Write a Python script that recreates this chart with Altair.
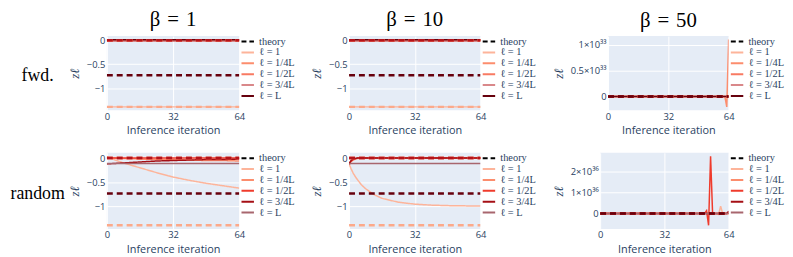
import altair as alt
import pandas as pd

# ---------------- text / categories ----------------
SERIES = ["ℓ = 1", "ℓ = 1/4L", "ℓ = 1/2L", "ℓ = 3/4L", "ℓ = L"]
LEGEND_DOMAIN = ["theory"] + SERIES
COL_TITLES = ["β\u2004=\u20041", "β\u2004=\u200410", "β\u2004=\u200450"]
ROW_LABELS = ["fwd.", "random"]
X_TITLE = "Inference iteration"
Y_TITLE = "zℓ"
X_TICKS = [0, 32, 64]
X_DOMAIN = [0, 64]

COLORS_FWD = ["#fdb49a", "#fc8d6d", "#f87a62", "#d9888a", "#67000d"]
COLORS_RND = ["#fdb49a", "#fc8d6d", "#ef3b2c", "#a50f15", "#a8666e"]
THEORY_COLORS = ["#fca98a", "#fc8d6d", "#f0503a", "#b5131b", "#67000d"]

# theory values per layer (dashed lines)
THEORY_ITERS = [0, 64]
THEORY_VALUES = [-1.385, 0.0, 0.0, 0.0, -0.73]

# ---------------- fwd., beta = 1 ----------------
F1_IT = [0, 64]
F1_L1 = [-1.385, -1.385]
F1_L14 = [0.0, 0.0]
F1_L12 = [0.0, 0.0]
F1_L34 = [-0.02, -0.02]
F1_LL = [0.01, 0.01]

# ---------------- fwd., beta = 10 ----------------
F10_IT = [0, 64]
F10_L1 = [-1.385, -1.385]
F10_L14 = [0.0, 0.0]
F10_L12 = [0.0, 0.0]
F10_L34 = [-0.02, -0.02]
F10_LL = [0.01, 0.01]

# ---------------- fwd., beta = 50 ----------------
F50_IT_FLAT = [0, 64]
F50_IT_SPIKE = [0, 62, 63, 64]
F50_L1 = [0.0, 0.0]
F50_L14 = [0.0, 0.0, -0.2e33, 1.1e33]
F50_L12 = [0.0, 0.0]
F50_L34 = [0.0, 0.0]
F50_LL = [0.0, 0.0]

# ---------------- random, beta = 1 ----------------
R1_IT = [0, 4, 8, 12, 16, 24, 32, 40, 48, 56, 64]
R1_L1 = [0.03, -0.04, -0.10, -0.15, -0.20, -0.30, -0.39, -0.46, -0.52, -0.57, -0.62]
R1_L14 = [0.01, 0.0, -0.01, -0.01, -0.02, -0.03, -0.03, -0.04, -0.05, -0.05, -0.06]
R1_L12 = [0.0, 0.0, 0.0, 0.0, 0.0, 0.0, 0.0, 0.0, 0.0, 0.0, 0.0]
R1_L34 = [-0.12, -0.11, -0.10, -0.09, -0.08, -0.06, -0.05, -0.04, -0.03, -0.03, -0.02]
R1_LL = [-0.11, -0.11, -0.11, -0.11, -0.11, -0.11, -0.11, -0.11, -0.11, -0.11, -0.11]

# ---------------- random, beta = 10 ----------------
R10_IT = [0, 1, 2, 3, 4, 6, 8, 12, 16, 24, 32, 40, 48, 56, 64]
R10_L1 = [-0.12, -0.22, -0.31, -0.38, -0.44, -0.55, -0.63, -0.75, -0.83, -0.91, -0.95, -0.97, -0.98, -0.985, -0.99]
R10_L14 = [-0.12, -0.07, -0.04, -0.02, -0.01, 0.0, 0.0, 0.0, 0.0, 0.0, 0.0, 0.0, 0.0, 0.0, 0.0]
R10_L12 = [-0.12, -0.06, -0.03, -0.01, 0.0, 0.0, 0.0, 0.0, 0.0, 0.0, 0.0, 0.0, 0.0, 0.0, 0.0]
R10_L34 = [-0.12, -0.05, -0.02, -0.01, 0.0, 0.0, 0.0, 0.0, 0.0, 0.0, 0.0, 0.0, 0.0, 0.0, 0.0]
R10_LL = [-0.12, -0.11, -0.11, -0.11, -0.11, -0.11, -0.11, -0.11, -0.11, -0.11, -0.11, -0.11, -0.11, -0.11, -0.11]

# ---------------- random, beta = 50 ----------------
R50_IT_FLAT = [0, 64]
R50_IT_L1 = [0, 58, 59, 60, 61, 64]
R50_L1 = [0.0, 0.0, -0.05e36, 0.35e36, 0.0, 0.0]
R50_L14 = [0.0, 0.0]
R50_IT_L12 = [0, 52, 53, 54, 55, 56, 64]
R50_L12 = [0.0, 0.0, 0.13e36, -0.57e36, 2.74e36, 0.0, 0.0]
R50_IT_L34 = [0, 63, 64]
R50_L34 = [0.0, 0.0, 0.1e36]
R50_LL = [0.0, 0.0]

# ---------------- axes ----------------
Y_TICKS = [-1, -0.5, 0]
Y_DOMAIN_FWD = [-1.455, 0.085]
Y_DOMAIN_RND = [-1.46, 0.11]
Y_DOMAIN_F50 = [-0.265e33, 1.165e33]
Y_TICKS_F50 = [0, 0.5e33, 1e33]
Y_LABELS_F50 = ["0", "0.5×10³³", "1×10³³"]
Y_DOMAIN_R50 = [-0.74e36, 2.91e36]
Y_TICKS_R50 = [0, 1e36, 2e36]
Y_LABELS_R50 = ["0", "1×10³⁶", "2×10³⁶"]

TXT = "#2a3f5f"
SERIF = "Liberation Serif"
SANS = "Open Sans"


def lines_frame(items):
    rows = []
    for name, its, vals in items:
        for i, v in zip(its, vals):
            rows.append({"iter": i, "value": v, "series": name})
    return pd.DataFrame(rows)


def theory_frame():
    rows = []
    for name, v in zip(SERIES, THEORY_VALUES):
        for i in THEORY_ITERS:
            rows.append({"iter": i, "value": v, "tseries": name})
    return pd.DataFrame(rows)


def label_expr(values, labels):
    tol = abs(float(values[-1])) * 1e-6 + 1e-9
    expr = "'" + labels[-1] + "'"
    for v, l in reversed(list(zip(values[:-1], labels[:-1]))):
        expr = f"abs(datum.value - ({float(v)!r})) < {tol!r} ? '{l}' : " + expr
    return expr


def make_panel(df, colors, width, height, ydomain, yticks, ylabels=None, title=None, rowlabel=None):
    x_axis = alt.Axis(values=X_TICKS, title=X_TITLE, format="d", labelFlush=False,
                      labelPadding=1, titlePadding=4)
    yargs = dict(values=yticks, title=Y_TITLE, labelPadding=2, titlePadding=5,
                 titleFont=SERIF, titleFontStyle="italic", titleFontSize=13, titleFontWeight="normal")
    if ylabels is not None:
        yargs["labelExpr"] = label_expr(yticks, ylabels)
    else:
        yargs["format"] = "~g"
    y_axis = alt.Axis(**yargs)
    x_enc = alt.X("iter:Q", scale=alt.Scale(domain=X_DOMAIN, nice=False, zero=False), axis=x_axis)
    y_enc = alt.Y("value:Q", scale=alt.Scale(domain=ydomain, nice=False, zero=False), axis=y_axis)
    leg = alt.Legend(title=None, orient="none", legendX=width + 3, legendY=0, direction="vertical",
                     symbolType="M-1.4,0H1.4", symbolSize=81, symbolStrokeWidth=2,
                     labelFont=SERIF, labelFontSize=10.5, labelColor=TXT, labelOffset=6,
                     rowPadding=0, padding=0)
    data_layer = alt.Chart(df).mark_line(strokeWidth=1.5, clip=True).encode(
        x=x_enc, y=y_enc,
        color=alt.Color("series:N", scale=alt.Scale(domain=LEGEND_DOMAIN, range=["#000000"] + colors), legend=leg),
        strokeDash=alt.StrokeDash("series:N", scale=alt.Scale(domain=LEGEND_DOMAIN, range=[[5, 3]] + [[1, 0]] * 5), legend=leg),
    )
    theory_layer = alt.Chart(theory_frame()).mark_line(strokeWidth=2.5, strokeDash=[6, 4], clip=True).encode(
        x=x_enc, y=y_enc,
        stroke=alt.Stroke("tseries:N", scale=alt.Scale(domain=SERIES, range=THEORY_COLORS), legend=None),
    )
    layers = [data_layer, theory_layer]
    if rowlabel is not None:
        anchor = alt.Chart(pd.DataFrame({"a": [0]})).mark_rule(opacity=0).encode(
            x=alt.value(-100), y=alt.value(0), y2=alt.value(1))
        txt = alt.Chart(pd.DataFrame({"label": [rowlabel]})).mark_text(
            font=SERIF, fontSize=18, align="center", baseline="middle", color="#000000").encode(
            text="label:N", x=alt.value(-70), y=alt.value(height / 2 + 3))
        layers += [anchor, txt]
    ch = alt.layer(*layers).properties(width=width, height=height)
    if title is not None:
        ch = ch.properties(title=alt.Title(title, font=SERIF, fontSize=21, fontWeight="normal", color="#000000",
                                           frame="group", anchor="middle", offset=5))
    return ch


fwd1 = lines_frame([(SERIES[0], F1_IT, F1_L1), (SERIES[1], F1_IT, F1_L14), (SERIES[2], F1_IT, F1_L12),
                    (SERIES[3], F1_IT, F1_L34), (SERIES[4], F1_IT, F1_LL)])
fwd10 = lines_frame([(SERIES[0], F10_IT, F10_L1), (SERIES[1], F10_IT, F10_L14), (SERIES[2], F10_IT, F10_L12),
                     (SERIES[3], F10_IT, F10_L34), (SERIES[4], F10_IT, F10_LL)])
fwd50 = lines_frame([(SERIES[0], F50_IT_FLAT, F50_L1), (SERIES[1], F50_IT_SPIKE, F50_L14),
                     (SERIES[2], F50_IT_FLAT, F50_L12), (SERIES[3], F50_IT_FLAT, F50_L34),
                     (SERIES[4], F50_IT_FLAT, F50_LL)])
rnd1 = lines_frame([(SERIES[0], R1_IT, R1_L1), (SERIES[1], R1_IT, R1_L14), (SERIES[2], R1_IT, R1_L12),
                    (SERIES[3], R1_IT, R1_L34), (SERIES[4], R1_IT, R1_LL)])
rnd10 = lines_frame([(SERIES[0], R10_IT, R10_L1), (SERIES[1], R10_IT, R10_L14), (SERIES[2], R10_IT, R10_L12),
                     (SERIES[3], R10_IT, R10_L34), (SERIES[4], R10_IT, R10_LL)])
rnd50 = lines_frame([(SERIES[0], R50_IT_L1, R50_L1), (SERIES[1], R50_IT_FLAT, R50_L14),
                     (SERIES[2], R50_IT_L12, R50_L12), (SERIES[3], R50_IT_L34, R50_L34),
                     (SERIES[4], R50_IT_FLAT, R50_LL)])

RES = dict(x="independent", y="independent", color="independent", strokeDash="independent", stroke="independent")

row1 = alt.hconcat(
    make_panel(fwd1, COLORS_FWD, 134, 75, Y_DOMAIN_FWD, Y_TICKS, title=COL_TITLES[0], rowlabel=ROW_LABELS[0]),
    make_panel(fwd10, COLORS_FWD, 133, 75, Y_DOMAIN_FWD, Y_TICKS, title=COL_TITLES[1]),
    make_panel(fwd50, COLORS_FWD, 122, 75, Y_DOMAIN_F50, Y_TICKS_F50, Y_LABELS_F50, title=COL_TITLES[2]),
    spacing=15,
).resolve_scale(**RES)

row2 = alt.hconcat(
    make_panel(rnd1, COLORS_RND, 134, 77, Y_DOMAIN_RND, Y_TICKS, rowlabel=ROW_LABELS[1]),
    make_panel(rnd10, COLORS_RND, 133, 77, Y_DOMAIN_RND, Y_TICKS),
    make_panel(rnd50, COLORS_RND, 130, 77, Y_DOMAIN_R50, Y_TICKS_R50, Y_LABELS_R50),
    spacing=15,
).resolve_scale(**RES)

chart = alt.vconcat(row1, row2, spacing=17).resolve_scale(**RES).properties(
    padding={"left": 0, "top": 0, "right": 0, "bottom": 0}
).configure_view(fill="#E5ECF6", stroke=None).configure_axis(
    grid=True, gridColor="#ffffff", gridWidth=1, domain=False, ticks=False,
    labelFont=SANS, labelFontSize=9.5, labelColor=TXT,
    titleFont=SANS, titleFontSize=11, titleFontWeight="normal", titleColor=TXT,
).configure_legend(symbolStrokeWidth=2)

chart.save("out.html", embed_options={"renderer": "svg", "actions": False})
